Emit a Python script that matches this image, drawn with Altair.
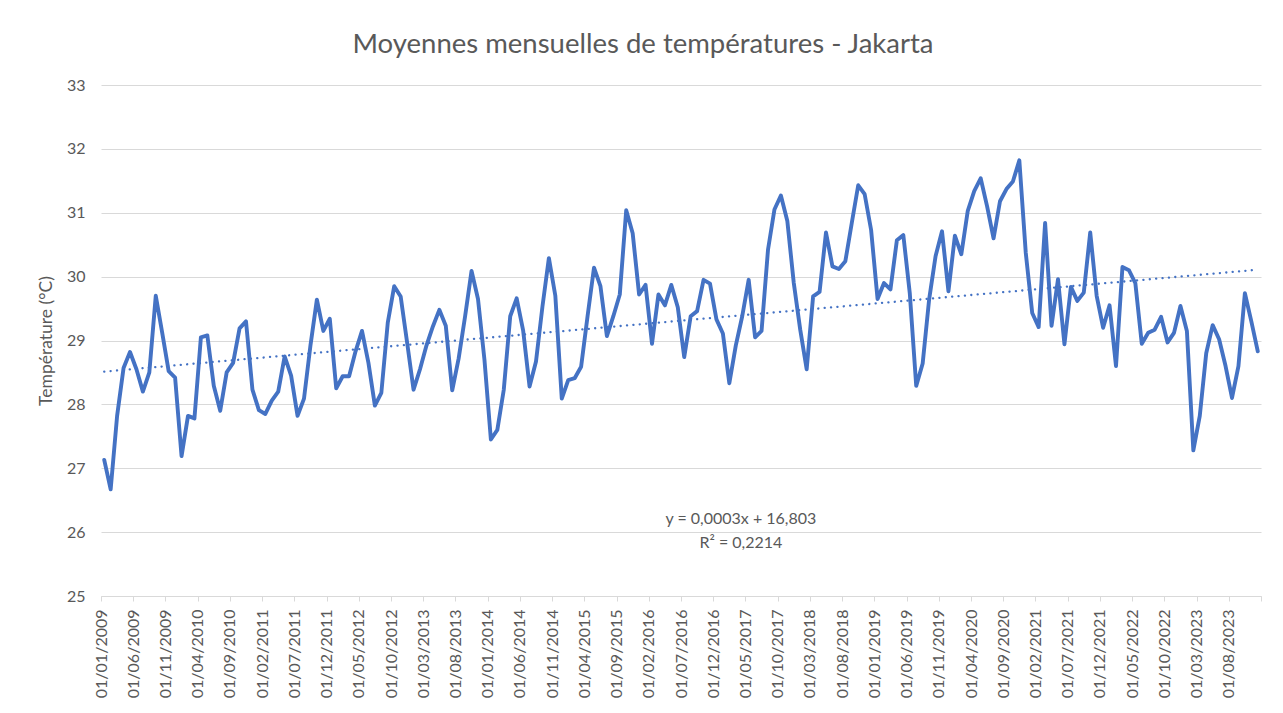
import altair as alt
import pandas as pd

# ---- data ----
mois = pd.date_range("2009-01-01", "2023-12-01", freq="MS")
temperatures = [
    27.13, 26.67, 27.82, 28.57, 28.82, 28.55, 28.20, 28.50, 29.70, 29.12, 28.52, 28.42,
    27.19, 27.82, 27.78, 29.05, 29.08, 28.29, 27.90, 28.50, 28.65, 29.19, 29.30, 28.23,
    27.91, 27.85, 28.06, 28.20, 28.75, 28.45, 27.82, 28.09, 28.92, 29.64, 29.15, 29.34,
    28.25, 28.44, 28.44, 28.83, 29.15, 28.65, 27.98, 28.18, 29.28, 29.85, 29.69, 28.97,
    28.23, 28.55, 28.92, 29.22, 29.48, 29.23, 28.22, 28.72, 29.38, 30.09, 29.65, 28.70,
    27.45, 27.60, 28.23, 29.38, 29.66, 29.16, 28.28, 28.67, 29.53, 30.29, 29.70, 28.09,
    28.38, 28.41, 28.59, 29.38, 30.14, 29.85, 29.07, 29.38, 29.72, 31.04, 30.68, 29.72,
    29.87, 28.95, 29.72, 29.55, 29.87, 29.52, 28.74, 29.38, 29.46, 29.95, 29.89, 29.33,
    29.11, 28.33, 28.92, 29.38, 29.95, 29.05, 29.15, 30.42, 31.05, 31.27, 30.87, 29.90,
    29.17, 28.55, 29.69, 29.76, 30.69, 30.16, 30.12, 30.24, 30.84, 31.43, 31.29, 30.73,
    29.65, 29.90, 29.80, 30.57, 30.65, 29.74, 28.29, 28.64, 29.64, 30.32, 30.71, 29.77,
    30.64, 30.35, 31.03, 31.34, 31.54, 31.10, 30.60, 31.18, 31.37, 31.49, 31.82, 30.37,
    29.43, 29.21, 30.84, 29.23, 29.96, 28.94, 29.84, 29.62, 29.75, 30.69, 29.70, 29.20,
    29.55, 28.60, 30.15, 30.10, 29.90, 28.95, 29.12, 29.17, 29.37, 28.97, 29.12, 29.54,
    29.15, 27.28, 27.82, 28.80, 29.24, 29.02, 28.60, 28.10, 28.60, 29.74, 29.30, 28.83,
]
tick_months = list(range(0, 181, 5))
y_ticks = list(range(25, 34))

eq_lines = ["y = 0,0003x + 16,803", "R² = 0,2214"]
eq_month = [99.3, 99.3]
eq_temp = [26.2, 25.83]

# ---- tables ----
df = pd.DataFrame({"date": mois.strftime("%Y-%m-%d"), "temp": temperatures})
df["idx"] = (mois.year - 2009) * 12 + (mois.month - 1) + 0.5
eq_df = pd.DataFrame({"txt": eq_lines, "idx": eq_month, "temp": eq_temp})

FONT = "Lato"
GREY = "#595959"
LIGHT = "#d9d9d9"
BLUE = "#4472C4"

x_scale = alt.Scale(domain=[0, 180], nice=False, zero=False)
y_scale = alt.Scale(domain=[25, 33], nice=False, zero=False)

label_expr = (
    "datum.value >= 180 ? '' : '01/' + ((datum.value % 12) + 1 < 10 ? '0' : '') + "
    "((datum.value % 12) + 1) + '/' + (2009 + floor(datum.value / 12))"
)

x_axis = alt.Axis(
    values=tick_months, labelExpr=label_expr, labelAngle=-90, labelAlign="right",
    labelBaseline="middle", grid=False, ticks=True, tickSize=5, tickColor=LIGHT,
    domainColor=LIGHT, labelPadding=8, labelFontSize=16, labelColor=GREY,
    labelFont=FONT, title=None, labelOverlap=False, labelFlush=False,
)
y_axis = alt.Axis(
    values=y_ticks, format="d", grid=True, gridColor=LIGHT, domain=False, ticks=False,
    labelPadding=16, labelFontSize=16, labelColor=GREY, labelFont=FONT,
    title="Température (°C)", titleFont=FONT, titleFontSize=17.5, titleColor=GREY,
    titleFontWeight="normal", titlePadding=11,
)

X = alt.X("idx:Q", scale=x_scale, axis=x_axis)
Y = alt.Y("temp:Q", scale=y_scale, axis=y_axis)

line = alt.Chart(df).mark_line(
    color=BLUE, strokeWidth=3.9, strokeJoin="round", strokeCap="round"
).encode(x=X, y=Y)

trend = alt.Chart(df).transform_regression("idx", "temp").mark_line(
    color=BLUE, strokeWidth=2.3, strokeDash=[0.1, 6.3], strokeCap="round"
).encode(x=X, y=Y)

eq = alt.Chart(eq_df).mark_text(
    font=FONT, fontSize=16, color=GREY, align="center", baseline="middle"
).encode(x=X, y=Y, text="txt:N")

chart = alt.layer(line, trend, eq).properties(
    width=1160,
    height=511,
    autosize=alt.AutoSizeParams(type="none"),
    padding={"left": 93, "top": 77, "right": 14, "bottom": 109},
    background="white",
    title=alt.TitleParams(
        "Moyennes mensuelles de températures - Jakarta",
        font=FONT, fontSize=27.5, color=GREY, fontWeight="normal",
        anchor="middle", dx=-38, offset=19,
    ),
).configure_view(stroke=None).configure_axis(labelOverlap=False)

chart.save("out.html", embed_options={"renderer": "svg", "actions": False})
